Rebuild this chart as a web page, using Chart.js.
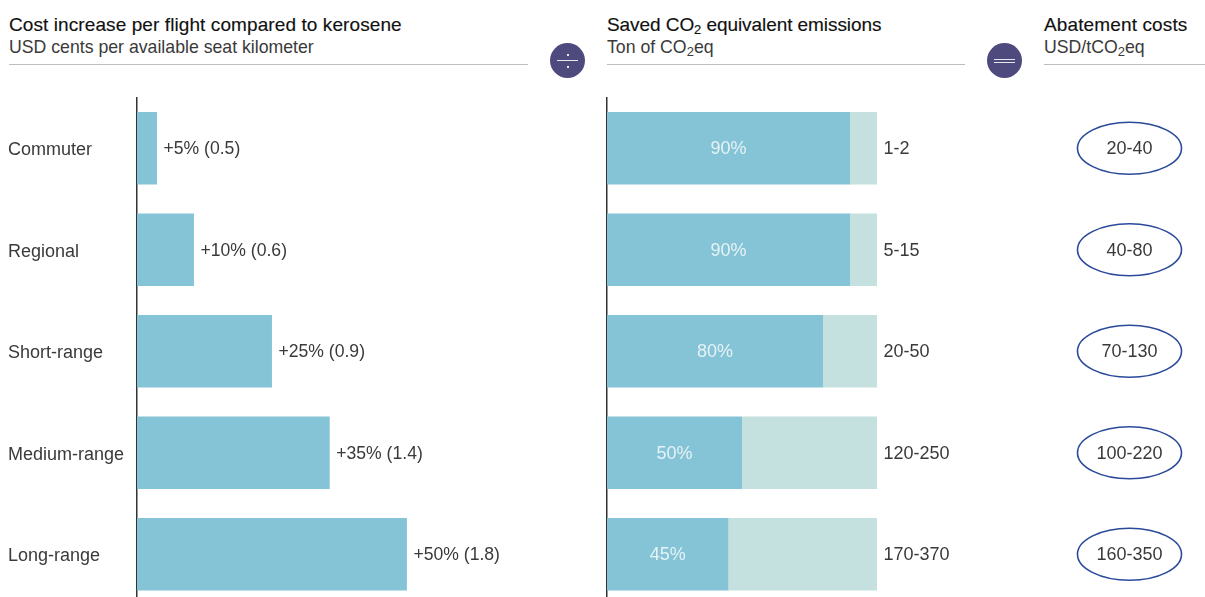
<!DOCTYPE html>
<html><head><meta charset="utf-8">
<style>
html,body{margin:0;padding:0;background:#fff;overflow:hidden;width:1205px;height:597px}
body{position:relative;font-family:"Liberation Sans",Arial,sans-serif;color:#222}
canvas{position:absolute;top:0}
.h{position:absolute;top:14px;font-size:19px;line-height:22px;white-space:nowrap;color:#111;-webkit-text-stroke:.15px #111}
.s{position:absolute;top:36px;font-size:17.7px;line-height:22px;white-space:nowrap;color:#3a3a3a}
sub{font-size:13px;line-height:0;vertical-align:-3px}
.r{position:absolute;top:64px;height:1px;background:#bdbdbd}
.c{position:absolute;top:43px;width:35px;height:35px;border-radius:50%;background:#4e4a7d}
.c i{position:absolute;background:#e8e8f0}
</style>
<script src="https://cdn.jsdelivr.net/npm/chart.js@4"></script>
</head><body>
<div class="h" style="left:9px;letter-spacing:.09px">Cost increase per flight compared to kerosene</div>
<div class="s" style="left:9px">USD cents per available seat kilometer</div>
<div class="r" style="left:9px;width:519px"></div>
<div class="h" style="left:607px;letter-spacing:-.07px">Saved CO<sub>2</sub> equivalent emissions</div>
<div class="s" style="left:607px">Ton of CO<sub>2</sub>eq</div>
<div class="r" style="left:607px;width:358px"></div>
<div class="h" style="left:1044px;letter-spacing:.13px">Abatement costs</div>
<div class="s" style="left:1044px">USD/tCO<sub>2</sub>eq</div>
<div class="r" style="left:1044px;width:161px"></div>
<div class="c" style="left:550px"><i style="left:7px;top:17px;width:21px;height:1px"></i><i style="left:17px;top:11px;width:1.5px;height:1.5px"></i><i style="left:17px;top:23px;width:1.5px;height:1.5px"></i></div>
<div class="c" style="left:987px"><i style="left:7px;top:16px;width:21px;height:1px"></i><i style="left:7px;top:19px;width:21px;height:1px"></i></div>
<canvas id="c1" style="left:0"></canvas>
<canvas id="c2" style="left:560px"></canvas>
<canvas id="c3" style="left:1044px"></canvas>
<script>
const categories=["Commuter","Regional","Short-range","Medium-range","Long-range"];
const costBar=[3.7,10.55,25,35.7,50];
const costLabels=["+5% (0.5)","+10% (0.6)","+25% (0.9)","+35% (1.4)","+50% (1.8)"];
const savedShare=[90,90,80,50,45];
const remainderShare=[10,10,20,50,55];
const savedLabels=["90%","90%","80%","50%","45%"];
const tonLabels=["1-2","5-15","20-50","120-250","170-370"];
const abatementLabels=["20-40","40-80","70-130","100-220","160-350"];
const abatementX=[0,0,0,0,0];

const BLUE="#85c3d6",PALE="#c4e0df",AXIS="#333",TXT="#3a3a3a";
const FAM='"Liberation Sans",Arial,sans-serif';
const FONT='18px '+FAM;
const H=605;
const PAD=97.5;
Chart.defaults.animation=false;
Chart.defaults.responsive=false;
Chart.defaults.plugins.legend.display=false;
Chart.defaults.plugins.tooltip.enabled=false;

function size(id,w){const c=document.getElementById(id);c.width=w;c.height=H;c.style.width=w+'px';c.style.height=H+'px';return c;}

function barLabels(id,dsIndex,labels,color,centered,font){
  return {id:id,afterDatasetsDraw(ch){
    const ctx=ch.ctx,meta=ch.getDatasetMeta(dsIndex);
    ctx.save();ctx.font=font||FONT;ctx.fillStyle=color;ctx.textBaseline='middle';
    meta.data.forEach((b,i)=>{
      if(centered){ctx.textAlign='center';ctx.fillText(labels[i],(b.base+b.x)/2,b.y+1);}
      else{ctx.textAlign='left';ctx.fillText(labels[i],b.x+6.5,b.y+1);}
    });
    ctx.restore();
  }};
}
function yAxis(extra){return Object.assign({type:'category',offset:true,
  grid:{display:false,drawTicks:false},
  border:{display:true,color:AXIS,width:1.5}},extra);}

new Chart(size('c1',530),{type:'bar',
 data:{labels:categories,datasets:[{data:costBar,backgroundColor:BLUE,barPercentage:1,categoryPercentage:72.5/101.5}]},
 options:{indexAxis:'y',layout:{padding:{left:8,top:PAD,bottom:0,right:0}},
  scales:{x:{min:0,max:72.8,display:false},
   y:yAxis({ticks:{color:TXT,font:{family:FAM,size:18},crossAlign:'far',padding:0,labelOffset:2},
     afterFit(s){s.width=129;s.paddingTop=0;s.paddingBottom=0;}})}},
 plugins:[barLabels('l1',0,costLabels,TXT,false,'17.6px '+FAM)]});

new Chart(size('c2',400),{type:'bar',
 data:{labels:categories,datasets:[
  {data:savedShare,backgroundColor:BLUE,stack:'a',barPercentage:1,categoryPercentage:72.5/101.5},
  {data:remainderShare,backgroundColor:PALE,stack:'a',barPercentage:1,categoryPercentage:72.5/101.5}]},
 options:{indexAxis:'y',layout:{padding:{left:47,top:PAD,bottom:0,right:83}},
  scales:{x:{min:0,max:100,stacked:true,display:false},
   y:yAxis({stacked:true,ticks:{display:false},afterFit(s){s.width=0;s.paddingTop=0;s.paddingBottom=0;}})}},
 plugins:[barLabels('l2',0,savedLabels,'#e6f3f6',true),barLabels('l3',1,tonLabels,TXT,false)]});

new Chart(size('c3',161),{type:'scatter',
 data:{labels:categories,datasets:[{data:abatementX.map((v,i)=>({x:v,y:categories[i]})),pointRadius:0}]},
 options:{layout:{padding:{top:PAD,left:0,right:0,bottom:0}},
  scales:{x:{type:'linear',min:-85.5,max:75.5,display:false},
   y:{type:'category',labels:categories,offset:true,display:false}}},
 plugins:[{id:'l4',afterDatasetsDraw(ch){const ctx=ch.ctx;ctx.save();ctx.font=FONT;ctx.textAlign='center';ctx.textBaseline='middle';
  ch.getDatasetMeta(0).data.forEach((p,i)=>{
    ctx.strokeStyle='#2a4a9a';ctx.lineWidth=1.6;ctx.beginPath();ctx.ellipse(p.x,p.y,52,26,0,0,Math.PI*2);ctx.stroke();
    ctx.fillStyle=TXT;ctx.fillText(abatementLabels[i],p.x,p.y+1);});ctx.restore();}}]});
</script>
</body></html>
